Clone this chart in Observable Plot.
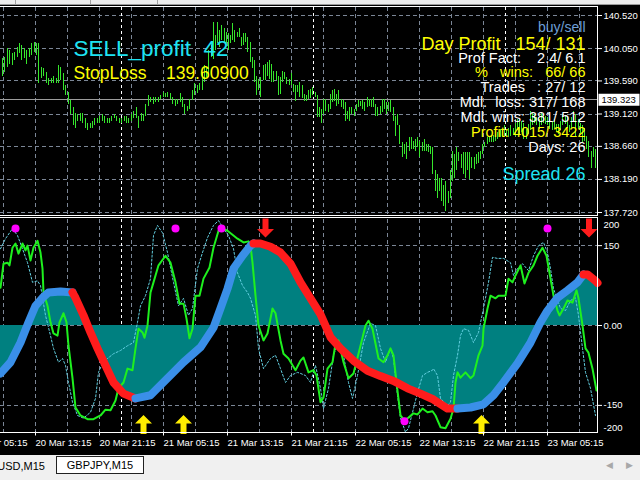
<!DOCTYPE html>
<html><head><meta charset="utf-8">
<script src="https://cdn.jsdelivr.net/npm/d3@7"></script>
<script src="https://cdn.jsdelivr.net/npm/@observablehq/plot@0.6"></script>
<style>
html,body{margin:0;padding:0;background:#000;width:640px;height:480px;overflow:hidden}
#wrap{position:relative;width:640px;height:480px;background:#000;overflow:hidden}
.layer{position:absolute;left:0}
.topbar{position:absolute;left:0;top:0;width:640px;height:4px;background:#ececec;border-bottom:1px solid #9a9a9a}
.topbar i{position:absolute;top:0;width:1px;height:4px;background:#a0a0a0}
.frame{position:absolute;border:1px solid #fff;box-sizing:border-box;pointer-events:none}
.tabs{position:absolute;left:0;top:455px;width:640px;height:25px;background:#f0f0f0;font:11px 'Liberation Sans',Arial,sans-serif;color:#000}
.tab0{position:absolute;right:595px;top:5px;white-space:nowrap}
.tab1{position:absolute;left:56px;top:1px;width:88px;height:18px;background:#fff;border:1px solid #222;box-sizing:border-box;text-align:center;line-height:16px}
.arr{position:absolute;top:5px;font:9px 'DejaVu Sans',sans-serif;color:#a8a8a8}
</style></head>
<body><div id="wrap">
<div class="topbar"><i style="left:15px"></i><i style="left:90px"></i><i style="left:157px"></i></div>
<div class="layer" id="p1" style="top:0"></div>
<div class="layer" id="p2" style="top:216px"></div>
<div class="frame" style="left:-1px;top:6px;width:599px;height:210px"></div>
<div class="frame" style="left:-1px;top:217px;width:599px;height:216px"></div>
<div class="tabs"><div class="tab0">USD,M15</div><div class="tab1">GBPJPY,M15</div><div class="arr" style="left:606px">&#9664;</div><div class="arr" style="left:626px">&#9654;</div></div>
</div>
<script>
// ---------- DATA ----------
const priceTicks = [140.52, 140.05, 139.59, 139.12, 138.66, 138.19, 137.72];
const currentPrice = 139.323;
const timeLabels = ["20 Mar 05:15","20 Mar 13:15","20 Mar 21:15","21 Mar 05:15","21 Mar 13:15","21 Mar 21:15","22 Mar 05:15","22 Mar 13:15","22 Mar 21:15","23 Mar 05:15"];
const timeLabelBars = [-14.5, 17.5, 49.5, 81.5, 113.5, 145.5, 177.5, 209.5, 241.5, 273.5];
const gridBars = [1.5,17.5,33.5,49.5,65.5,81.5,97.5,113.5,129.5,145.5,161.5,177.5,193.5,209.5,225.5,241.5,257.5,273.5,289.5];
const dayBars = [60.5, 156.5, 252.5];

// price bars, three consecutive stretches of the chart
const hiA = [139.91,139.92,140.05,140.02,139.98,139.99,140.06,140.12,140.09,140.05,140.02,140.05,140.12,140.13,140.12,140.12,139.78,139.76,139.71,139.63,139.63,139.66,139.63,139.81,139.78,139.69,139.52,139.42,139.31,139.21,139.13,139.12,139.13,139.13,139.06,138.98,138.99,139.02,139.05,139.06,139.09,139.12,139.09,139.06,139.06,139.09,139.12,139.09,139.06,139.06,139.09,139.08,139.06,139.12,139.16,139.21,139.09,139.13,139.12,139.26,139.38,139.35,139.35,139.36,139.35,139.38,139.42,139.41,139.42,139.41,139.35,139.33,139.33,139.41,139.35,139.26,139.23,139.32,139.45,139.56,139.52,139.55];
const loA = [139.66,139.71,139.78,139.83,139.81,139.88,139.92,139.98,139.88,139.91,139.83,139.92,139.95,139.99,139.95,139.56,139.62,139.66,139.55,139.52,139.55,139.56,139.56,139.56,139.59,139.45,139.38,139.26,139.12,138.95,138.91,139.02,139.02,138.99,138.92,138.88,138.91,138.92,138.95,138.98,138.98,139.02,138.99,138.98,138.99,139.02,139.05,139.02,138.98,138.99,139.02,138.99,138.98,139.02,139.05,139.06,138.91,139.02,139.02,139.09,139.23,139.28,139.26,139.28,139.28,139.32,139.35,139.35,139.35,139.33,139.26,139.23,139.26,139.28,139.21,139.12,139.16,139.19,139.31,139.38,139.41,139.45];
const hiB = [139.71,139.81,139.78,140.02,140.09,140.42,140.23,140.42,140.31,140.38,140.33,140.28,140.26,140.23,140.40,140.31,140.28,140.33,140.21,140.26,140.27,140.21,140.14,139.92,139.88,139.65,139.61,139.64,139.81,139.83,139.85,139.88,139.83,139.73,139.73,139.66,139.64,139.73,139.71,139.64,139.61,139.69,139.54,139.52,139.52,139.57,139.52,139.40,139.38,139.45,139.47,139.50,139.42,139.38,139.21,139.19,139.33,139.33,139.26,139.40,139.45,139.47,139.40,139.45,139.33,139.31,139.28,139.16,139.21,139.21,139.19,139.26,139.31,139.30,139.31,139.28,139.35,139.33,139.33,139.35,139.26,139.21,139.22,139.33,139.33,139.28,139.28,139.31,139.21,139.09,139.11,138.95];
const loB = [139.45,139.57,139.64,139.64,139.92,139.90,140.02,140.12,140.07,140.16,140.14,140.12,140.02,140.12,140.16,140.14,140.21,140.21,140.08,140.09,140.14,140.00,139.85,139.76,139.57,139.38,139.45,139.35,139.59,139.59,139.66,139.61,139.57,139.57,139.59,139.38,139.40,139.57,139.61,139.54,139.52,139.52,139.42,139.30,139.42,139.35,139.34,139.30,139.30,139.33,139.34,139.38,139.35,139.07,139.07,138.98,139.11,139.16,139.14,139.19,139.28,139.30,139.23,139.26,139.21,139.19,139.02,139.04,139.02,139.11,139.08,139.16,139.21,139.23,139.19,139.16,139.21,139.23,139.21,139.21,139.09,139.08,139.11,139.14,139.19,139.11,139.16,139.14,139.02,138.80,138.95,138.69];
const hiC = [138.71,138.69,138.71,138.78,138.78,138.73,138.76,138.78,138.73,138.71,138.76,138.69,138.69,138.66,138.64,138.31,138.26,138.21,138.21,138.11,138.16,138.02,138.31,138.59,138.54,138.64,138.57,138.54,138.57,138.57,138.57,138.57,138.50,138.50,138.54,138.57,138.59,138.69,138.71,138.78,138.80,138.80,138.82,138.83,138.85,138.90,138.89,138.95,138.90,138.92,138.95,138.92,138.99,139.04,139.02,139.02,138.99,138.90,138.97,139.16,139.14,139.11,139.07,139.04,139.14,139.11,139.09,139.07,139.04,139.02,139.04,138.97,138.97,139.02,139.11,139.09,139.07,138.95,139.07,139.16,139.11,139.04,138.99,138.95,138.92,138.80,138.73,138.59,138.64,138.62];
const loC = [138.50,138.54,138.47,138.59,138.61,138.61,138.59,138.64,138.50,138.59,138.59,138.59,138.57,138.54,138.26,138.02,137.92,138.02,137.88,137.80,137.73,137.85,137.92,138.16,138.21,138.31,138.45,138.35,138.26,138.21,138.31,138.19,138.35,138.33,138.40,138.42,138.47,138.54,138.64,138.69,138.71,138.71,138.72,138.73,138.76,138.78,138.78,138.80,138.80,138.79,138.80,138.82,138.80,138.88,138.83,138.85,138.76,138.76,138.83,138.88,138.95,138.99,138.95,138.90,138.95,138.99,138.97,138.95,138.90,138.88,138.90,138.85,138.83,138.88,138.95,138.97,138.92,138.85,138.92,139.02,138.78,138.90,138.83,138.71,138.73,138.61,138.50,138.35,138.50,138.35];
const spanA = [1, 99.5], spanB = [101, 199.5], spanC = [201, 297.5];

// oscillator (bar, value)
const trendUp1 = [[0,-90],[5,-69],[10,-32],[14,6],[17.5,37],[21,52],[24,62],[30,64],[36,62]];
const trendDn1 = [[36,62],[37.5,52],[41.5,19],[45,-13],[48.5,-43],[52.5,-75],[56.5,-107],[61.5,-128],[67.5,-137]];
const trendUp2 = [[67.5,-137],[70,-135],[75,-131],[83.5,-99],[91.5,-69],[100,-41],[106.5,-4],[110,32],[113.5,69],[116.5,107],[121,131],[125,150],[126.5,154]];
const trendDn2 = [[126.5,154],[130,154],[135,148],[140,137],[145,116],[150,81],[155,51],[160,21],[165,-22],[170,-43],[176.5,-66],[183.5,-85],[190,-95],[196.5,-104],[203.5,-118],[210,-128],[216.5,-139],[223.5,-156],[228.5,-156]];
const trendUp3 = [[228.5,-156],[235,-154],[241.5,-148],[246.5,-131],[251.5,-107],[258.5,-71],[265,-32],[270,6],[273.5,28],[278.5,52],[283.5,66],[288.5,81],[291.5,96]];
const trendDn3 = [[291.5,96],[293.5,96],[297.5,84],[298.5,80]];

const fastLine = [[0,71],[1.5,116],[3.5,118],[4.5,113],[6,146],[7.5,154],[9,135],[11,154],[12.5,141],[13.5,150],[15,122],[16.5,146],[18.5,159],[20,137],[21,107],[21.5,62],[23.5,37],[25,6],[26.5,-15],[28.5,-19],[29.5,6],[31.5,23],[33,6],[34,-38],[36,-99],[37.5,-154],[40,-169],[43.5,-176],[46.5,-176],[50,-169],[52.5,-158],[55,-159],[57.5,-141],[59,-118],[61.5,-107],[63.5,-81],[66,-84],[67.5,-43],[69,-6],[71,-13],[72,-23],[73.5,0],[75,62],[76.5,81],[79,113],[82.5,131],[85,118],[87.5,81],[89.5,41],[91.5,41],[93,13],[94.5,-24],[96,-6],[97.5,56],[99.5,56],[101.5,88],[104.5,109],[106.5,146],[109,178],[111,182],[113.5,178],[118.5,163],[121.5,156],[124,158],[125,150],[126,118],[127.5,56],[129,0],[131.5,-28],[133.5,-15],[136,32],[137.5,23],[140,-28],[141.5,-53],[144,-62],[147.5,-84],[150,-66],[151.5,-60],[154,-88],[156.5,-84],[158,-94],[160,-144],[161.5,-135],[163.5,-81],[166,-69],[167.5,-34],[169,-28],[171.5,-69],[174,-99],[176.5,-90],[180,-38],[182.5,0],[184,9],[186,-6],[189,-62],[191.5,-69],[193.5,-56],[195,-43],[196.5,-56],[198,-107],[200,-169],[202,-178],[204,-173],[206.5,-165],[208.5,-167],[211,-156],[213.5,-163],[216,-161],[217.5,-169],[220,-191],[222.5,-193],[225,-175],[226.5,-156],[227.5,-107],[228.5,-88],[230,-98],[232.5,-88],[235,-99],[236.5,-94],[239,-56],[241,-38],[241.5,-6],[243.5,32],[245,56],[247.5,51],[249,56],[252.5,56],[254,88],[256,81],[257.5,94],[260,113],[262,79],[264,99],[266.5,113],[268.5,131],[271,146],[273,131],[275,88],[276.5,56],[278.5,28],[279.5,19],[281.5,32],[283.5,47],[286,43],[288,66],[289,51],[291,0],[292.5,-43],[294,-51],[296,-81],[298,-122]];
const slowLine = [[0,144],[2.5,163],[6,182],[8.5,169],[11,144],[13.5,118],[16,81],[18.5,84],[20,75],[22.5,19],[25,-19],[26.5,-43],[29,-69],[31,-62],[32.5,-75],[34,-107],[36,-144],[38.5,-169],[41.5,-174],[45,-163],[47.5,-137],[49,-88],[51,-71],[53.5,-62],[56.5,-53],[60,-47],[63.5,-38],[66.5,-32],[68.5,6],[70,37],[72.5,56],[75,88],[76.5,169],[78.5,188],[81,174],[83.5,137],[86.5,81],[89,37],[91.5,51],[94,19],[96,32],[98.5,107],[101,137],[103.5,165],[106.5,188],[109,197],[111.5,182],[114,169],[116.5,144],[118.5,99],[121,75],[123.5,62],[125,51],[127.5,19],[129,-43],[131.5,-81],[135,-62],[137.5,-56],[140,-81],[142.5,-107],[145,-94],[148.5,-88],[150,-90],[152.5,-94],[155,-107],[157.5,-75],[160,-118],[161.5,-156],[164,-118],[166.5,-56],[169,-28],[171.5,-56],[174,-107],[176,-137],[178.5,-94],[181.5,-32],[185,4],[187.5,0],[190,-43],[192.5,-69],[195,-43],[196.5,-62],[198.5,-131],[200,-174],[202.5,-200],[204,-193],[206.5,-156],[208.5,-126],[211,-94],[213.5,-88],[216,-84],[216.5,-81],[218.5,-94],[220,-137],[223.5,-150],[225,-144],[226.5,-94],[228.5,-56],[230,-19],[231.5,-6],[234,-9],[236.5,-32],[239,-13],[241.5,32],[244,81],[246,128],[248.5,126],[251.5,126],[255,118],[256.5,94],[258.5,107],[261,116],[264,103],[266.5,131],[269,150],[271.5,156],[273.5,137],[275,107],[276.5,69],[280,32],[282.5,28],[285,47],[287.5,52],[289,19],[291,-43],[292.5,-88],[295,-118],[297.5,-169]];

const peakBar = [7.5, 87.5, 110.5, 202, 273.5];
const peakVal = [182, 182, 182, -180, 182];
const sellBar = [132.5, 294.25];
const sellVal = [183, 183];
const buyBar = [71.5, 91.5, 240.5];
const buyVal = [-186, -186, -186];

const sellText = "SELL_profit  42";
const stopText = "StopLoss    139.60900";
const statLines = ["buy/sell", "Day Profit   154/ 131", "Prof Fact:    2.4/ 6.1", "%   wins:   66/ 66", "Trades   : 27/ 12", "Mdl.  loss: 317/ 168", "Mdl. wins: 381/ 512", "Profit: 4015/ 3422", "Days: 26"];
const spreadText = "Spread 26";
const levelTicks = [150, 0, -150];
const edgeTicks = [200, -200];

// ---------- STYLE ----------
const FONT_AX = "'Liberation Sans',Arial,sans-serif";
const FONT_TX = "'Liberation Sans',Arial,sans-serif";
const GRID = "#7b8696";
const CYAN = "#1ee3f2";
const YEL = "#ffff00";
const BLUE = "#3a8fe8";
const RED = "#ff1c1c";

const seg = (his, los, span) => his.map((h, i) => ({bar: span[0] + i * (span[1] - span[0]) / (his.length - 1), hi: h, lo: los[i]}));
const bars = [...seg(hiA, loA, spanA), ...seg(hiB, loB, spanB), ...seg(hiC, loC, spanC)];
const pts = arr => arr.map(([b, v]) => ({bar: b, v}));
const trendSegs = [["u", trendUp1], ["d", trendDn1], ["u", trendUp2], ["d", trendDn2], ["u", trendUp3], ["d", trendDn3]]
  .flatMap(([dir, arr], k) => arr.map(([b, v]) => ({bar: b, v, dir, seg: k})));
const labelMap = new Map(timeLabelBars.map((b, i) => [b, timeLabels[i]]));

const rectSym = {draw(c) { c.rect(-20.5, -6, 41, 12); }};
const upArrow = {draw(c) { c.moveTo(0,-9.5); c.lineTo(8.5,-1); c.lineTo(3,-1); c.lineTo(3,9.5); c.lineTo(-3,9.5); c.lineTo(-3,-1); c.lineTo(-8.5,-1); c.closePath(); }};
const downArrow = {draw(c) { c.moveTo(0,9.5); c.lineTo(8.5,1); c.lineTo(3,1); c.lineTo(3,-9.5); c.lineTo(-3,-9.5); c.lineTo(-3,1); c.lineTo(-8.5,1); c.closePath(); }};

const baseStyle = {background: "transparent", color: "#fff", fontFamily: FONT_AX, fontSize: "9.5px", overflow: "visible"};
const tl = (txt, dx, dy, size, fill) => Plot.text([txt], {text: d => d, frameAnchor: "top-left", dx, dy, textAnchor: "start", fill, fontSize: size, fontFamily: FONT_TX});
const tr = (txt, dy, size, fill) => Plot.text([txt], {text: d => d, frameAnchor: "top-right", dx: -12, dy, textAnchor: "end", fill, fontSize: size, fontFamily: FONT_TX});

// ---------- PRICE PANEL ----------
const statColors = ["#6e9fd6", YEL, "#fff", YEL, "#fff", "#fff", "#fff", YEL, "#fff"];
const statSizes = [14, 18, 14.5, 14.5, 14.5, 14.5, 14.5, 14.5, 14.5];
const statDy = [6.5, 21.5, 37, 51.4, 66.3, 81.3, 96.3, 111.3, 126.3];

const p1 = Plot.plot({
  width: 640, height: 216,
  marginTop: 15, marginBottom: 4, marginLeft: 0, marginRight: 43,
  x: {domain: [0, 298.5], axis: null},
  y: {domain: [137.72, 140.52], axis: null},
  style: baseStyle,
  marks: [
    Plot.ruleX(gridBars, {stroke: GRID, strokeDasharray: "4,3", insetTop: -8, insetBottom: -2, shapeRendering: "crispEdges"}),
    Plot.ruleY(priceTicks, {stroke: GRID, strokeDasharray: "4,3", shapeRendering: "crispEdges"}),
    Plot.ruleX(dayBars, {stroke: "#fff", strokeDasharray: "3,3", insetTop: -8, insetBottom: -2, shapeRendering: "crispEdges"}),
    Plot.ruleY([currentPrice], {stroke: "#9c9c9c", shapeRendering: "crispEdges"}),
    Plot.ruleX(bars, {x: "bar", y1: "lo", y2: "hi", stroke: "#36e62c", strokeWidth: 1, shapeRendering: "crispEdges"}),
    Plot.axisY(priceTicks, {anchor: "right", tickFormat: d => d.toFixed(3), tickSize: 4, tickPadding: 2, label: null}),
    Plot.dot([currentPrice], {y: d => d, frameAnchor: "right", dx: 21.5, symbol: rectSym, fill: "#fff"}),
    Plot.text([currentPrice], {y: d => d, text: d => d.toFixed(3), frameAnchor: "right", dx: 4, textAnchor: "start", fill: "#000"}),
    tl(sellText, 73, 25, 22.5, CYAN),
    tl(stopText, 73, 51.5, 17.5, YEL),
    ...statLines.map((s, i) => tr(s, statDy[i], statSizes[i], statColors[i])),
    tr(spreadText, 151.3, 18, CYAN)
  ]
});
document.getElementById("p1").append(p1);

// ---------- OSCILLATOR PANEL ----------
const p2 = Plot.plot({
  width: 640, height: 240,
  marginTop: 2.5, marginBottom: 24.5, marginLeft: 0, marginRight: 43,
  x: {domain: [0, 298.5], axis: null},
  y: {domain: [-200, 200], axis: null},
  style: baseStyle,
  marks: [
    Plot.ruleX(gridBars, {stroke: GRID, strokeDasharray: "4,3", shapeRendering: "crispEdges"}),
    Plot.ruleY(levelTicks, {stroke: GRID, strokeDasharray: "4,3", shapeRendering: "crispEdges"}),
    Plot.ruleX(dayBars, {stroke: "#fff", strokeDasharray: "3,3", shapeRendering: "crispEdges"}),
    Plot.areaY(trendSegs, {x: "bar", y1: 0, y2: "v", fill: "#008080"}),
    Plot.line(pts(slowLine), {x: "bar", y: "v", stroke: "#63cfe0", strokeWidth: 1, strokeDasharray: "2,2"}),
    Plot.line(pts(fastLine), {x: "bar", y: "v", stroke: "#1ef01e", strokeWidth: 2}),
    Plot.line(trendSegs, {x: "bar", y: "v", z: "seg", stroke: d => d.dir === "u" ? BLUE : RED, strokeWidth: 8, strokeLinecap: "round", strokeLinejoin: "round"}),
    Plot.dot(peakBar, {x: d => d, y: (d, i) => peakVal[i], r: 4, fill: "#ff00ff"}),
    Plot.dot(sellBar, {x: d => d, y: (d, i) => sellVal[i], symbol: downArrow, fill: RED}),
    Plot.dot(buyBar, {x: d => d, y: (d, i) => buyVal[i], symbol: upArrow, fill: "#ffee00"}),
    Plot.dot(buyBar, {x: d => d, frameAnchor: "bottom", symbol: "square", r: 2.2, fill: "#ffee00"}),
    Plot.axisX(timeLabelBars, {anchor: "bottom", tickFormat: d => labelMap.get(d), tickSize: 4, tickPadding: 3, textAnchor: "start", label: null}),
    Plot.axisY(levelTicks, {anchor: "right", tickFormat: d => d === 0 ? "0.00" : String(d), tickSize: 4, tickPadding: 2, label: null}),
    Plot.text([edgeTicks[0]], {y: d => d, text: d => String(d), frameAnchor: "right", dx: 6, dy: 6, textAnchor: "start", fill: "#fff"}),
    Plot.text([edgeTicks[1]], {y: d => d, text: d => String(d), frameAnchor: "right", dx: 6, dy: -4.5, textAnchor: "start", fill: "#fff"})
  ]
});
document.getElementById("p2").append(p2);
</script>
</body></html>
